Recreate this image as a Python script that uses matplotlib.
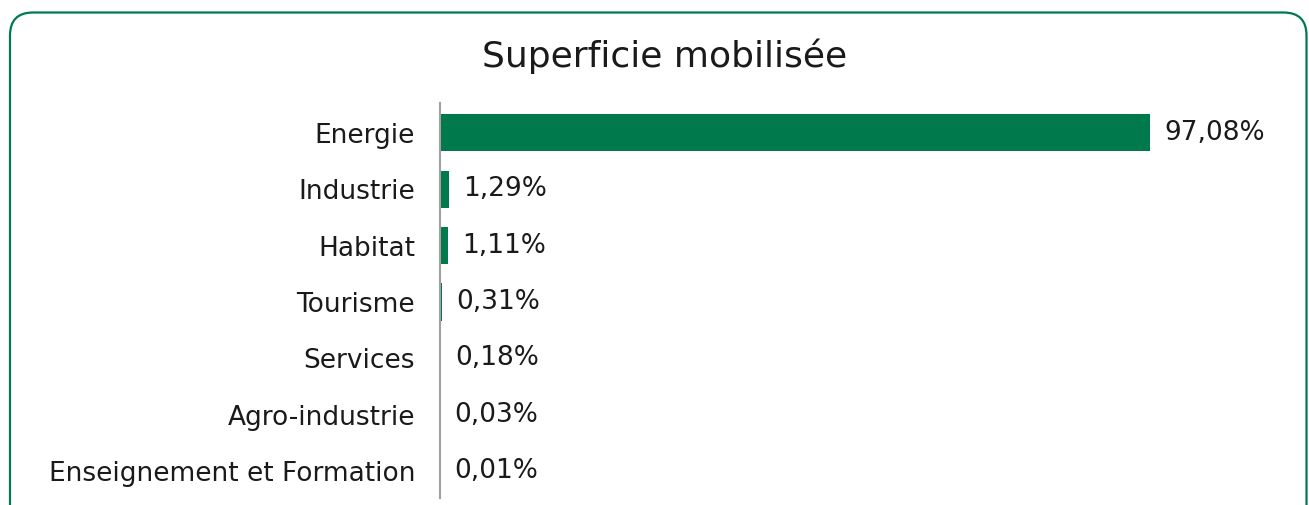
import matplotlib
matplotlib.use("Agg")
import matplotlib.pyplot as plt
from matplotlib.patches import FancyBboxPatch

categories = ["Energie", "Industrie", "Habitat", "Tourisme", "Services",
              "Agro-industrie", "Enseignement et Formation"]
values = [97.08, 1.29, 1.11, 0.31, 0.18, 0.03, 0.01]
labels = ["97,08%", "1,29%", "1,11%", "0,31%", "0,18%", "0,03%", "0,01%"]
title = "Superficie mobilisée"

green = "#007A4D"
W, H = 1309, 505
plt.rcParams['font.family'] = ['DejaVu Sans']
fig = plt.figure(figsize=(W / 100, H / 100), dpi=100)

# background axes in pixel units for the rounded border (y measured from bottom)
bg = fig.add_axes([0, 0, 1, 1])
bg.set_xlim(0, W)
bg.set_ylim(0, H)
bg.axis("off")
top_px, left_px, right_px = 12.5, 10, 1306.5
border = FancyBboxPatch((left_px, -60), right_px - left_px, (H - top_px) + 60,
                        boxstyle="round,pad=0,rounding_size=23",
                        fill=False, edgecolor=green, linewidth=1.6)
bg.add_patch(border)

ax_left, ax_right = 440, 1290
ax_top, ax_bot = 103, 498
ax = fig.add_axes([ax_left / W, 1 - ax_bot / H, (ax_right - ax_left) / W, (ax_bot - ax_top) / H])
px_per_unit = (1150 - 440) / 97.08
ax.set_xlim(0, (ax_right - ax_left) / px_per_unit)
ypos = list(range(len(categories)))
ax.set_ylim(6.48, -0.53)
ax.barh(ypos, values, height=0.66, color=green)
for y, v, lab in zip(ypos, values, labels):
    ax.text(v + 14 / px_per_unit, y, lab, va="center", ha="left", fontsize=19, color="#1a1a1a")
ax.set_yticks(ypos)
ax.set_yticklabels(categories, fontsize=19, color="#1a1a1a")
ax.tick_params(axis="y", length=0, pad=18)
ax.set_xticks([])
for s in ["top", "right", "bottom"]:
    ax.spines[s].set_visible(False)
ax.spines["left"].set_color("#a0a0a0")
ax.spines["left"].set_linewidth(1.5)
ax.patch.set_alpha(0)

fig.text(665 / W, 1 - 56 / H, title, ha="center", va="center", fontsize=26, color="#1a1a1a")

fig.savefig("out.png", dpi=100)
